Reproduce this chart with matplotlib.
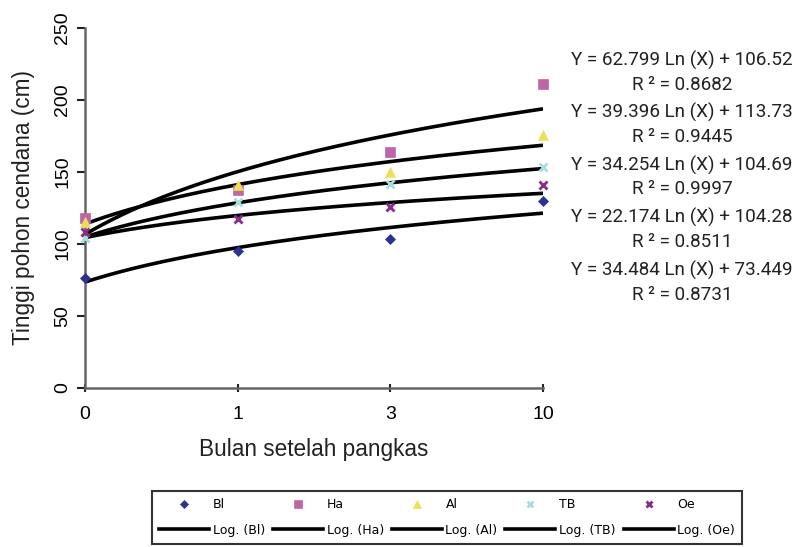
import numpy as np
import matplotlib
matplotlib.use("Agg")
import matplotlib.pyplot as plt
from matplotlib.lines import Line2D

# ---- data ----
months = ["0", "1", "3", "10"]
series_names = ["Bl", "Ha", "Al", "TB", "Oe"]
bl = [76.5, 95, 103, 130]
ha = [118, 137, 164, 211]
al = [115, 141, 150, 175.5]
tb = [104, 129, 141.5, 153]
oe = [108, 117.5, 125.5, 141]
slopes = [62.799, 39.396, 34.254, 22.174, 34.484]
intercepts = [106.52, 113.73, 104.69, 104.28, 73.449]
r2_values = [0.8682, 0.9445, 0.9997, 0.8511, 0.8731]
# trendline i belongs to series order below (Ha, Al, TB, Oe, Bl)
trend_for = ["Ha", "Al", "TB", "Oe", "Bl"]

values = {"Bl": bl, "Ha": ha, "Al": al, "TB": tb, "Oe": oe}
colors = {"Bl": "#2B3390", "Ha": "#C064A8", "Al": "#EEE055", "TB": "#A8DEDE", "Oe": "#8A2A8A"}
markers = {"Bl": "D", "Ha": "s", "Al": "^", "TB": "x", "Oe": "x"}
msizes = {"Bl": 5.5, "Ha": 6.5, "Al": 7, "TB": 6, "Oe": 6}

W, H = 795, 547
fig = plt.figure(figsize=(W / 100, H / 100), dpi=100)
ax = fig.add_axes([85 / W, 1 - 388 / H, (543 - 85) / W, (388 - 27.5) / H])

pos = np.arange(len(months))
xfine = np.linspace(0, len(months) - 1, 200)

# trendlines (Excel log fit on category index 1..n)
for name, a, b in zip(trend_for, slopes, intercepts):
    ax.plot(xfine, a * np.log(xfine + 1) + b, color="black", lw=2.6, zorder=2,
            solid_capstyle="butt")

for name in series_names:
    ax.plot(pos, values[name], linestyle="none", marker=markers[name],
            color=colors[name], markersize=msizes[name],
            markeredgewidth=2 if markers[name] == "x" else 0.5,
            markeredgecolor=colors[name], clip_on=False, zorder=3)

ax.set_xlim(0, len(months) - 1)
ax.set_ylim(0, 250)
ax.set_yticks(np.arange(0, 251, 50))
ax.set_xticks(pos)
ax.set_xticklabels(months)

for s in ["top", "right"]:
    ax.spines[s].set_visible(False)
for s in ["left", "bottom"]:
    ax.spines[s].set_color("#666666")
    ax.spines[s].set_linewidth(1.8)

font = "Liberation Sans"
ax.tick_params(axis="y", direction="out", length=6, width=1.5, color="#222222",
               pad=4, labelsize=14, labelrotation=90)
for lab in ax.get_yticklabels():
    lab.set_family(font)
    lab.set_va("center")
ax.tick_params(axis="x", direction="inout", length=6, width=1.5, color="#222222",
               pad=10, labelsize=14)
for lab in ax.get_xticklabels():
    lab.set_family(font)

ax.set_xlabel("Bulan setelah pangkas", fontsize=16.3, family=font, labelpad=11,
              color="#222222")
ax.set_ylabel("Tinggi pohon cendana (cm)", fontsize=16.3, family=font, labelpad=14,
              color="#222222")

# equations
eq_font = ["Roboto", "DejaVu Sans"]
for i, (a, b, r2) in enumerate(zip(slopes, intercepts, r2_values)):
    yc = 60 + 52.5 * i
    fig.text(682 / W, 1 - yc / H, f"Y = {a} Ln (X) + {b}", ha="center", va="center",
             fontsize=13.6, family=eq_font, color="#222222")
    fig.text(682 / W, 1 - (yc + 24.5) / H, f"R \u00b2 = {r2}", ha="center", va="center",
             fontsize=13.6, family=eq_font, color="#222222")

# legend
handles, labels = [], []
for name in series_names:
    handles.append(Line2D([], [], linestyle="none", marker=markers[name],
                          color=colors[name], markersize=msizes[name] - 1,
                          markeredgewidth=2 if markers[name] == "x" else 0.5,
                          markeredgecolor=colors[name]))
    labels.append(name)
    handles.append(Line2D([], [], color="black", lw=2.6))
    labels.append(f"Log. ({name})")

leg = fig.legend(handles, labels, ncol=5, loc="center",
                 bbox_to_anchor=(152 / W, 1 / H, (742 - 152) / W, 57 / H),
                 mode="expand", borderaxespad=0, frameon=True, fancybox=False,
                 prop={"family": "DejaVu Sans", "size": 9}, handlelength=4.0,
                 handletextpad=0.3, columnspacing=0.8, labelspacing=1.0,
                 borderpad=0.55)
leg.get_frame().set_edgecolor("black")
leg.get_frame().set_linewidth(1.5)

fig.savefig("out.png", dpi=100)
